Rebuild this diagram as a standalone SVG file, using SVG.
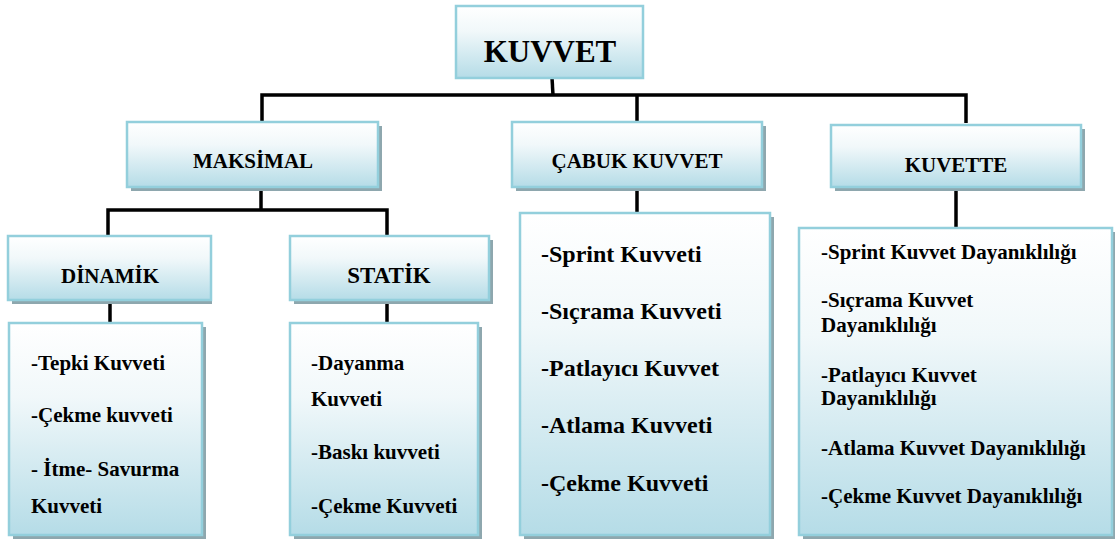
<svg xmlns="http://www.w3.org/2000/svg" width="1117" height="541" viewBox="0 0 1117 541">
<defs>
<linearGradient id="g" x1="0" y1="0" x2="0" y2="1">
<stop offset="0" stop-color="#ffffff"/>
<stop offset="0.35" stop-color="#f1f8fa"/>
<stop offset="1" stop-color="#b5dce7"/>
</linearGradient>
<style>
.box{fill:url(#g);stroke:#93cfdc;stroke-width:2.5}
.sh{fill:#8ea7ae}
.hd{font-family:'Liberation Serif','Times New Roman',serif;font-weight:bold;font-size:21px;fill:#000;text-anchor:middle}
.bd{font-family:'Liberation Serif','Times New Roman',serif;font-weight:bold;font-size:21px;fill:#000}
.bl{font-family:'Liberation Serif','Times New Roman',serif;font-weight:bold;font-size:24px;fill:#000}
.c{fill:none;stroke:#000;stroke-width:3.5}
</style>
</defs>
<rect width="1117" height="541" fill="#ffffff"/>
<g id="connectors">
<path class="c" d="M552,78 L553,95"/>
<path class="c" d="M262,121 V95 H966 V123"/>
<path class="c" d="M637,95 V122"/>
<path class="c" d="M261,188 V210"/>
<path class="c" d="M108,237 V210 H387 V237"/>
<path class="c" d="M110,301 V323"/>
<path class="c" d="M387,301 V323"/>
<path class="c" d="M637,188 V213"/>
<path class="c" d="M956,187 V229"/>
</g>
<g id="kuvvet">
<rect class="box" x="456" y="6" width="187" height="72"/>
<text class="hd" x="550" y="62" style="font-size:31px">KUVVET</text>
</g>
<g id="maksimal">
<rect class="sh" x="131" y="126" width="251" height="65"/>
<rect class="box" x="127" y="122" width="251" height="65"/>
<text class="hd" x="253" y="168">MAKSİMAL</text>
</g>
<g id="cabuk">
<rect class="sh" x="516" y="126" width="250" height="65"/>
<rect class="box" x="512" y="122" width="250" height="65"/>
<text class="hd" x="637" y="168">ÇABUK KUVVET</text>
</g>
<g id="kuvette">
<rect class="sh" x="835" y="129" width="250" height="62"/>
<rect class="box" x="831" y="125" width="250" height="62"/>
<text class="hd" x="956" y="172">KUVETTE</text>
</g>
<g id="dinamik">
<rect class="sh" x="12" y="240" width="200" height="64"/>
<rect class="box" x="8" y="236" width="203" height="64"/>
<text class="hd" x="110" y="283">DİNAMİK</text>
</g>
<g id="statik">
<rect class="sh" x="294" y="240" width="199" height="64"/>
<rect class="box" x="290" y="236" width="199" height="64"/>
<text class="hd" x="389" y="283" style="font-size:23px">STATİK</text>
</g>
<g id="dinamik-list">
<rect class="sh" x="13" y="327" width="193" height="212"/>
<rect class="box" x="9" y="323" width="193" height="212"/>
<text class="bd" x="31" y="370">-Tepki Kuvveti</text>
<text class="bd" x="31" y="422">-Çekme kuvveti</text>
<text class="bd" x="31" y="476">- İtme- Savurma</text>
<text class="bd" x="31" y="513">Kuvveti</text>
</g>
<g id="statik-list">
<rect class="sh" x="294" y="327" width="188" height="212"/>
<rect class="box" x="290" y="323" width="188" height="212"/>
<text class="bd" x="311" y="370">-Dayanma</text>
<text class="bd" x="311" y="406">Kuvveti</text>
<text class="bd" x="311" y="459">-Baskı kuvveti</text>
<text class="bd" x="311" y="513">-Çekme Kuvveti</text>
</g>
<g id="cabuk-list">
<rect class="sh" x="524" y="217" width="250" height="322"/>
<rect class="box" x="520" y="213" width="250" height="322"/>
<text class="bl" x="541" y="262">-Sprint Kuvveti</text>
<text class="bl" x="541" y="319">-Sıçrama Kuvveti</text>
<text class="bl" x="541" y="376">-Patlayıcı Kuvvet</text>
<text class="bl" x="541" y="433">-Atlama Kuvveti</text>
<text class="bl" x="541" y="491">-Çekme Kuvveti</text>
</g>
<g id="kuvette-list">
<rect class="sh" x="803" y="232" width="312" height="307"/>
<rect class="box" x="799" y="228" width="313" height="307"/>
<text class="bd" x="821" y="259">-Sprint Kuvvet Dayanıklılığı</text>
<text class="bd" x="821" y="307">-Sıçrama Kuvvet</text>
<text class="bd" x="821" y="332">Dayanıklılığı</text>
<text class="bd" x="821" y="382">-Patlayıcı Kuvvet</text>
<text class="bd" x="821" y="405">Dayanıklılığı</text>
<text class="bd" x="821" y="455">-Atlama Kuvvet Dayanıklılığı</text>
<text class="bd" x="821" y="503">-Çekme Kuvvet Dayanıklılığı</text>
</g>
</svg>
